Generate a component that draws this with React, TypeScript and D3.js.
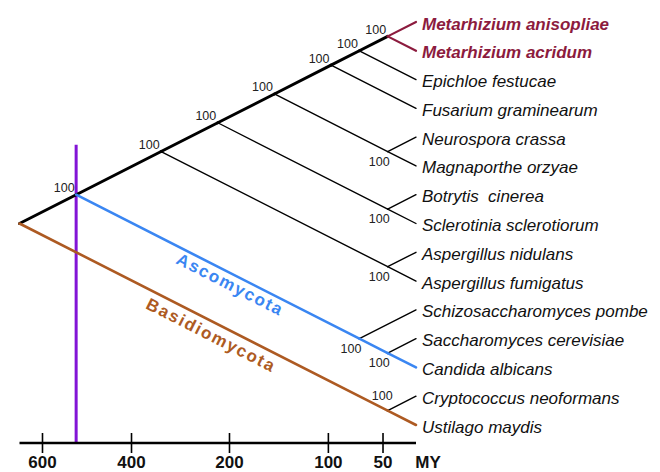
import * as React from 'react';
import * as d3 from 'd3';

// tips, top to bottom
const species = [
  'Metarhizium anisopliae',
  'Metarhizium acridum',
  'Epichloe festucae',
  'Fusarium graminearum',
  'Neurospora crassa',
  'Magnaporthe orzyae',
  'Botrytis  cinerea',
  'Sclerotinia sclerotiorum',
  'Aspergillus nidulans',
  'Aspergillus fumigatus',
  'Schizosaccharomyces pombe',
  'Saccharomyces cerevisiae',
  'Candida albicans',
  'Cryptococcus neoformans',
  'Ustilago maydis',
];
const highlighted = [0, 1];

// tree topology as nested tip indices
const topology = [[[[[[[[0, 1], 2], 3], [4, 5]], [6, 7]], [8, 9]], [10, [11, 12]]], [13, 14]];

// [first tip, last tip, support, label placement]
const bootstrap = [
  [0, 12, 100, 'left'],
  [0, 9, 100, 'left'],
  [0, 7, 100, 'left'],
  [0, 5, 100, 'left'],
  [0, 3, 100, 'left'],
  [0, 2, 100, 'left'],
  [0, 1, 100, 'left'],
  [4, 5, 100, 'below'],
  [6, 7, 100, 'below'],
  [8, 9, 100, 'below'],
  [10, 12, 100, 'below'],
  [11, 12, 100, 'below'],
  [13, 14, 100, 'above'],
];

// clade lineages: from node [first,last] down to tip
const clades = [
  { name: 'Ascomycota', from: [0, 12], to: 12, color: '#3a86f2', t: 0.467, off: 10.5 },
  { name: 'Basidiomycota', from: [0, 14], to: 14, color: '#ad5a22', t: 0.498, off: 13 },
];

const axisTicks = [600, 400, 200, 100, 50];
const axisUnit = 'MY';
// nonlinear time axis: fraction of tree width for each age
const axisAges = [600, 400, 200, 100, 50, 0];
const axisFrac = [0.058, 0.2825, 0.5296, 0.779, 0.9168, 1];

const W = 660;
const H = 472;
const rootX = 19.5;
const tipX = 416;
const topY = 22;
const bottomY = 425;
const axisY = 443;
const FONT = '"Liberation Sans", Arial, Helvetica, sans-serif';

const App = () => {
  const root = d3.hierarchy<any>(topology, (d) => (Array.isArray(d) ? d : null));
  root.eachAfter((n: any) => {
    if (!n.children) {
      n.lo = n.data;
      n.hi = n.data;
    } else {
      n.lo = d3.min(n.children, (c: any) => c.lo);
      n.hi = d3.max(n.children, (c: any) => c.hi);
    }
  });

  const y = d3.scaleLinear().domain([0, species.length - 1]).range([topY, bottomY]);
  const half = (species.length - 1) / 2;
  const x = d3.scaleLinear().domain([half, 0]).range([rootX, tipX]);
  const age = d3
    .scaleLinear()
    .domain(axisAges)
    .range(axisFrac.map((f) => rootX + f * (tipX - rootX)));

  const nodes: any[] = root.descendants();
  nodes.forEach((n) => {
    n.px = x((n.hi - n.lo) / 2);
    n.py = (y(n.lo) + y(n.hi)) / 2;
  });
  const find = (lo: number, hi: number) => nodes.find((n) => n.lo === lo && n.hi === hi && n.children);
  const within = (n: any, a: any) => n.lo >= a.lo && n.hi <= a.hi && n !== a;

  const edgeStyle = (child: any) => {
    if (!child.children && highlighted.includes(child.data)) return { stroke: '#8c1b3e', w: 2.2 };
    for (const c of clades) {
      const a = find(c.from[0], c.from[1]);
      if (within(child, a) && child.lo <= c.to && child.hi >= c.to) return { stroke: c.color, w: 2.6 };
    }
    if (child.children && child.lo === 0) return { stroke: '#000', w: 3 };
    return { stroke: '#000', w: 1.4 };
  };

  const links = root.links();
  const asco = find(0, 12);

  return (
    <svg width={W} height={H} style={{ position: 'absolute', left: 0, top: 0, background: '#fff' }} fontFamily={FONT}>
      {/* clade origin marker */}
      <line x1={asco.px} x2={asco.px} y1={asco.py - 50} y2={axisY} stroke="#8214d6" strokeWidth={3} />

      {links.map((l: any, i: number) => {
        const s = edgeStyle(l.target);
        return (
          <line
            key={i}
            x1={l.source.px}
            y1={l.source.py}
            x2={l.target.px}
            y2={l.target.py}
            stroke={s.stroke}
            strokeWidth={s.w}
            strokeLinecap="round"
          />
        );
      })}

      {bootstrap.map(([lo, hi, v, pos]: any, i) => {
        const n = find(lo, hi);
        const dx = pos === 'left' ? -1.5 : pos === 'below' ? 2 : 5;
        const dy = pos === 'left' ? -2.5 : pos === 'below' ? 14 : -10.5;
        return (
          <text key={i} x={n.px + dx} y={n.py + dy} fontSize={12.5} textAnchor="end" fill="#222">
            {v}
          </text>
        );
      })}

      {species.map((s, i) => {
        const hl = highlighted.includes(i);
        return (
          <text
            key={s}
            x={tipX + 6}
            y={y(i) + 7.5}
            fontSize={17}
            fontStyle="italic"
            fontWeight={hl ? 'bold' : 'normal'}
            fill={hl ? '#8c1b3e' : '#111'}
            style={{ whiteSpace: 'pre' }}
          >
            {s}
          </text>
        );
      })}

      {clades.map((c) => {
        const a = find(c.from[0], c.from[1]);
        const x1 = a.px;
        const y1 = a.py;
        const x2 = tipX;
        const y2 = y(c.to);
        const ang = Math.atan2(y2 - y1, x2 - x1);
        const cx = x1 + c.t * (x2 - x1) - c.off * Math.sin(ang);
        const cy = y1 + c.t * (y2 - y1) + c.off * Math.cos(ang);
        return (
          <text
            key={c.name}
            transform={`translate(${cx},${cy}) rotate(${(ang * 180) / Math.PI})`}
            textAnchor="middle"
            dominantBaseline="central"
            fontSize={17}
            fontWeight="bold"
            letterSpacing={1.7}
            fill={c.color}
          >
            {c.name}
          </text>
        );
      })}

      {/* time axis */}
      <line x1={rootX} x2={tipX} y1={axisY} y2={axisY} stroke="#000" strokeWidth={2.5} />
      {axisTicks.map((t) => (
        <g key={t} transform={`translate(${age(t)},0)`}>
          <line y1={axisY - 10} y2={axisY + 10} stroke="#000" strokeWidth={1.6} />
          <text y={468} textAnchor="middle" fontSize={17} fontWeight="bold" fill="#111">
            {t}
          </text>
        </g>
      ))}
      <text x={tipX + 12} y={468} textAnchor="middle" fontSize={17} fontWeight="bold" fill="#111">
        {axisUnit}
      </text>
    </svg>
  );
};

export default App;
